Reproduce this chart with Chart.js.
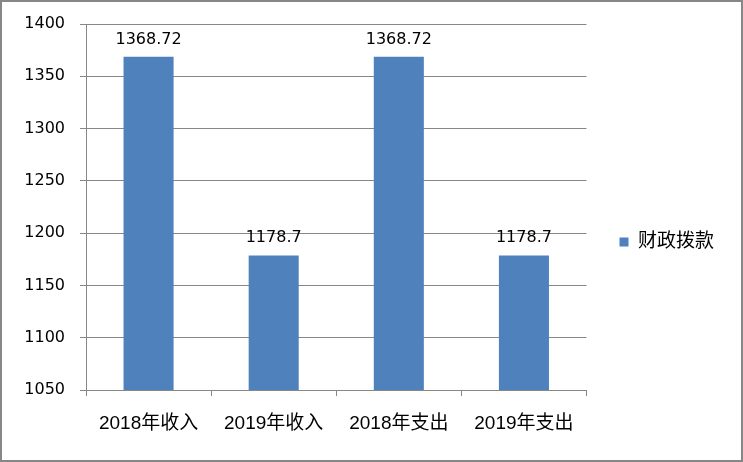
<!DOCTYPE html>
<html>
<head>
<meta charset="utf-8">
<script src="https://cdn.jsdelivr.net/npm/chart.js@4/dist/chart.umd.min.js"></script>
<style>
  body { margin: 0; background: #fff; }
  #wrap { width: 743px; height: 462px; box-sizing: border-box; border: 2px solid #878787; position: relative; }
  canvas { display: block; }
</style>
</head>
<body>
<div id="wrap"><canvas id="chart" width="739" height="458"></canvas></div>
<script>
const categories = ['2018年收入', '2019年收入', '2018年支出', '2019年支出'];
const seriesName = '财政拨款';
const values = [1368.72, 1178.7, 1368.72, 1178.7];
const yTicks = [1050, 1100, 1150, 1200, 1250, 1300, 1350, 1400];

const gridColor = '#878787';
const numFont = { family: '"DejaVu Sans", "Noto Sans CJK SC", sans-serif', size: 16 };
const catFont = { family: '"Liberation Sans", "Noto Sans CJK SC", sans-serif', size: 19 };

// value labels above each bar
const barLabels = {
  id: 'barLabels',
  afterDatasetsDraw(chart) {
    const c = chart.ctx;
    c.save();
    c.font = numFont.size + 'px ' + numFont.family;
    c.fillStyle = '#000';
    c.textAlign = 'center';
    c.textBaseline = 'alphabetic';
    chart.getDatasetMeta(0).data.forEach((bar, i) => {
      c.fillText(String(values[i]), bar.x, bar.y - 13);
    });
    c.restore();
  }
};

new Chart(document.getElementById('chart'), {
  type: 'bar',
  data: {
    labels: categories,
    datasets: [{
      label: seriesName,
      data: values,
      backgroundColor: '#4F81BD',
      borderWidth: 0,
      barPercentage: 0.4,
      categoryPercentage: 1
    }]
  },
  options: {
    responsive: false,
    animation: false,
    layout: { padding: { top: 22, right: 17, bottom: 0, left: 0 } },
    plugins: {
      legend: {
        position: 'right',
        labels: {
          boxWidth: 9,
          boxHeight: 9,
          padding: 33,
          color: '#000',
          font: catFont
        }
      },
      tooltip: { enabled: false }
    },
    scales: {
      x: {
        grid: { drawOnChartArea: false, drawTicks: true, tickLength: 6, color: gridColor, offset: true },
        border: { color: gridColor, width: 1 },
        ticks: { color: '#000', font: catFont, padding: 16, maxRotation: 0 },
        afterFit(scale) { scale.height = 70; }
      },
      y: {
        min: 1050,
        max: 1400,
        grid: { color: gridColor, tickLength: 6 },
        border: { color: gridColor, width: 1 },
        ticks: {
          color: '#000',
          font: Object.assign({ lineHeight: 0.75 }, numFont),
          padding: 15,
          stepSize: 50,
          callback: (v) => yTicks.includes(v) ? String(v) : ''
        },
        afterFit(scale) { scale.width = 84; }
      }
    }
  },
  plugins: [barLabels]
});
</script>
</body>
</html>
